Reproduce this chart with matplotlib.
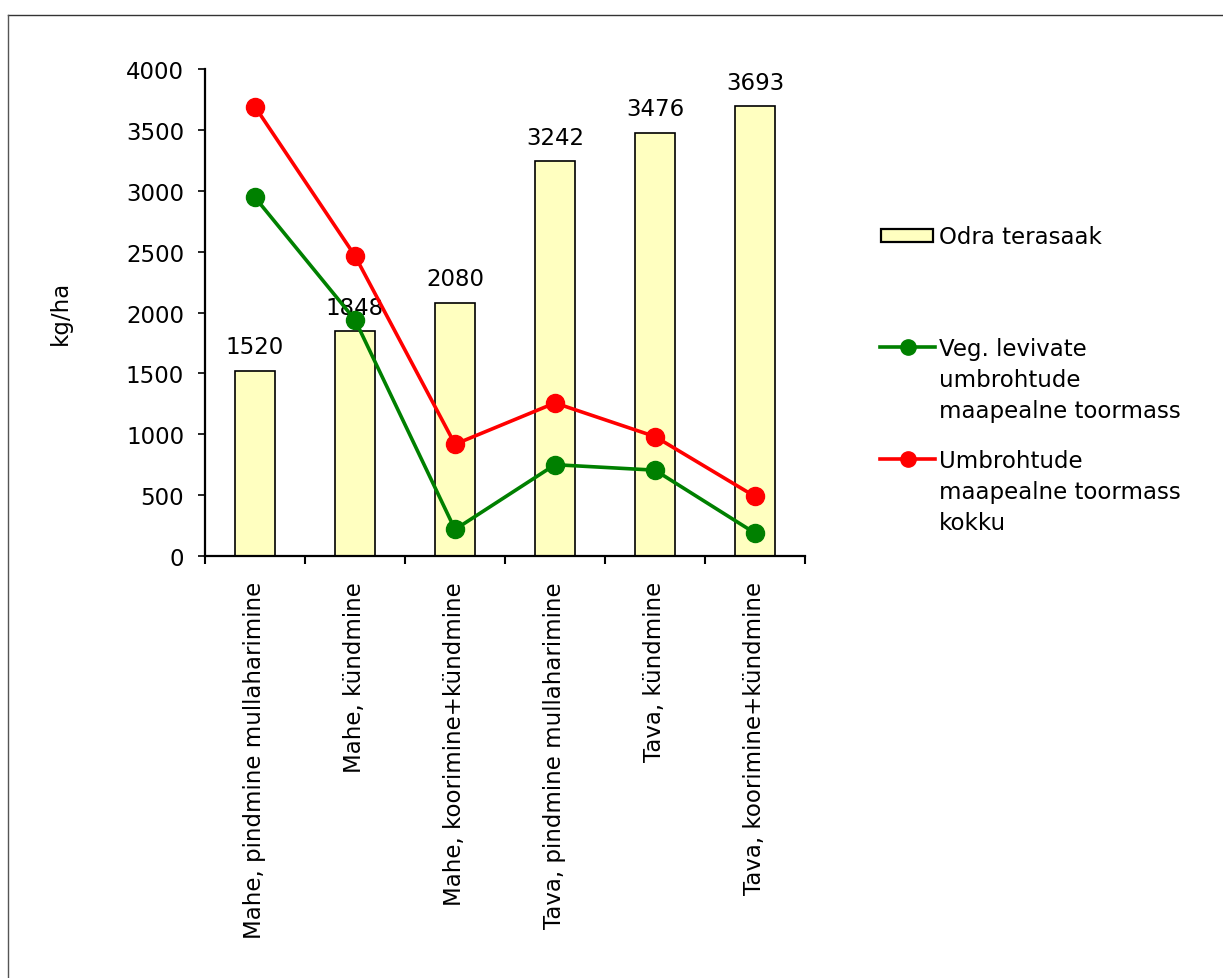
import matplotlib.pyplot as plt
from matplotlib.lines import Line2D
from matplotlib.patches import Rectangle
import numpy as np

plt.rcParams['font.family'] = ['DejaVu Sans']

# Treatments and results (kg/ha)
categories = ["Mahe, pindmine mullaharimine", "Mahe, kündmine",
              "Mahe, koorimine+kündmine", "Tava, pindmine mullaharimine",
              "Tava, kündmine", "Tava, koorimine+kündmine"]
grain_yield = [1520, 1848, 2080, 3242, 3476, 3693]
weeds_veg = [2945, 1940, 218, 750, 705, 188]
weeds_total = [3690, 2465, 918, 1257, 981, 489]

bar_label = "Odra terasaak"
veg_label = "Veg. levivate\numbrohtude\nmaapealne toormass"
total_label = "Umbrohtude\nmaapealne toormass\nkokku"

W, H = 1223, 979
fs = 16.5

fig = plt.figure(figsize=(W / 100, H / 100), dpi=100)
ax = fig.add_axes([205 / W, 1 - 557 / H, 600 / W, 487 / H])

x = np.arange(len(categories))
bars = ax.bar(x, grain_yield, width=0.4, color='#FFFFC0', edgecolor='black', linewidth=1.2, zorder=2)
for xi, v in zip(x, grain_yield):
    ax.annotate(str(v), (xi, v), xytext=(0, 9), textcoords='offset points',
                ha='center', va='bottom', fontsize=fs)

ax.plot(x, weeds_veg, color='#008000', linewidth=2.6, marker='o', markersize=13, zorder=3)
ax.plot(x, weeds_total, color='#FF0000', linewidth=2.6, marker='o', markersize=13, zorder=4)

ax.set_xlim(-0.5, len(categories) - 0.5)
ax.set_ylim(0, 4000)
ax.set_yticks(np.arange(0, 4001, 500))
ax.tick_params(axis='y', labelsize=fs, length=5, width=1.2, pad=10)

# ticks between categories, labels centred under the bars
ax.set_xticks(np.arange(-0.5, len(categories), 1))
ax.set_xticklabels([])
ax.set_xticks(x, minor=True)
ax.set_xticklabels(categories, minor=True, rotation=90, fontsize=fs, va='top', ha='center')
ax.tick_params(axis='x', which='major', length=6, width=1.5)
ax.tick_params(axis='x', which='minor', length=0, pad=18)

for s in ['top', 'right']:
    ax.spines[s].set_visible(False)
for s in ['left', 'bottom']:
    ax.spines[s].set_linewidth(1.6)

fig.text(60 / W, 1 - 313 / H, "kg/ha", rotation=90, ha='center', va='center', fontsize=fs)


def fpos(px, py):
    return px / W, 1 - py / H


# legend, laid out by hand
fig.add_artist(Rectangle(fpos(881, 243), 52 / W, 13 / H, transform=fig.transFigure,
                         facecolor='#FFFFC0', edgecolor='black', linewidth=1.6))
fig.text(*fpos(939, 237), bar_label, ha='left', va='center', fontsize=fs)

for ypix, col, lab in [(348, '#008000', veg_label), (460, '#FF0000', total_label)]:
    fx0, fy = fpos(880, ypix)
    fx1, _ = fpos(935, ypix)
    fig.add_artist(Line2D([fx0, fx1], [fy, fy], transform=fig.transFigure,
                          color=col, linewidth=2.6))
    fig.add_artist(Line2D([(fx0 + fx1) / 2], [fy], transform=fig.transFigure,
                          color=col, marker='o', markersize=11))
    fig.text(*fpos(939, ypix - 10), lab, ha='left', va='top', fontsize=fs, linespacing=1.45)

# outer frame (top and left edges)
fig.add_artist(Line2D([8 / W, 1], [1 - 16 / H, 1 - 16 / H], transform=fig.transFigure,
                      color='#333333', linewidth=1.0))
fig.add_artist(Line2D([8 / W, 8 / W], [0, 1 - 16 / H], transform=fig.transFigure,
                      color='#555555', linewidth=1.0))

fig.savefig("out.png", dpi=100)
